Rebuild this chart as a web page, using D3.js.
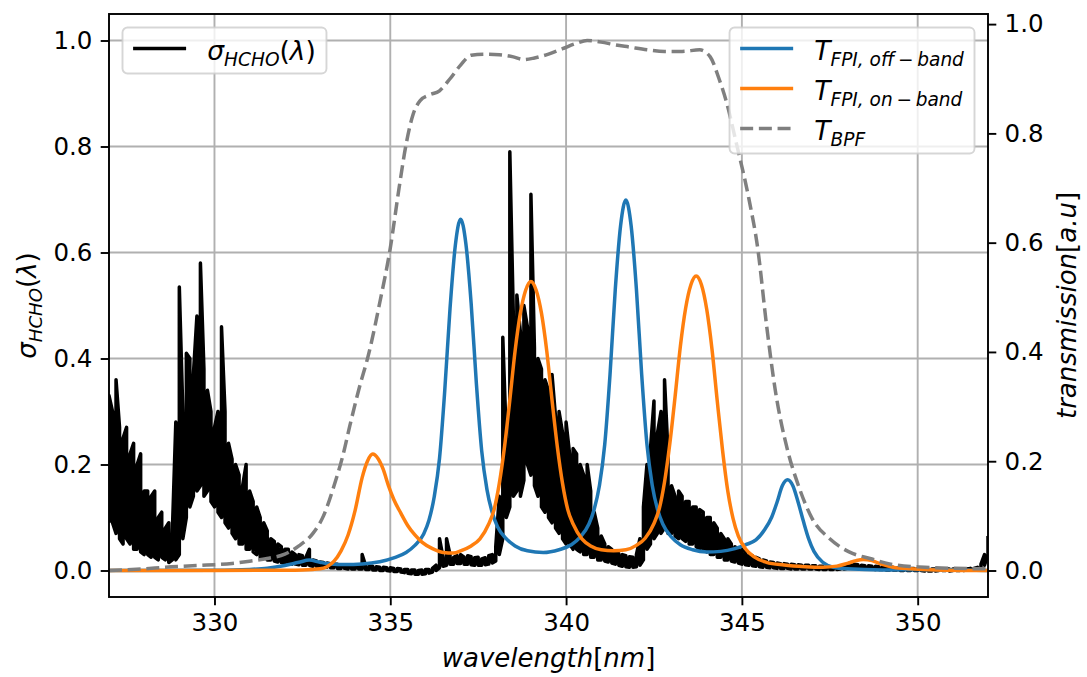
<!doctype html>
<html>
<head>
<meta charset="UTF-8">
<title>HCHO cross section and FPI transmission</title>
<script src="https://cdn.jsdelivr.net/npm/d3@7"></script>
<style>
    body { margin:0; background:#fff; }
    text { font-family: "DejaVu Sans", sans-serif; fill:#000; }
</style>
</head>
<body>
<script>
// HCHO cross section (left axis): the spectrum is far denser than the page,
// so each 0.1 nm bin keeps its highest and lowest value, starting at 327.0 nm
var sigmaStart = 327.0, sigmaStep = 0.1;
var sigmaHigh = [
 0.33,0.30,0.36,0.27,0.25,0.27,0.22,0.24,0.20,0.22,
 0.15,0.15,0.14,0.15,0.10,0.11,0.08,0.09,0.07,0.28,
 0.535,0.30,0.41,0.40,0.37,0.48,0.58,0.38,0.34,0.30,
 0.27,0.30,0.46,0.30,0.24,0.21,0.20,0.18,0.16,0.20,
 0.15,0.13,0.12,0.10,0.09,0.075,0.06,0.055,0.05,0.045,
 0.04,0.04,0.035,0.03,0.03,0.028,0.025,0.04,0.02,0.018,
 0.016,0.015,0.014,0.013,0.012,0.012,0.011,0.011,0.01,0.01,
 0.01,0.01,0.03,0.009,0.008,0.008,0.007,0.006,0.006,0.005,
 0.005,0.004,0.004,0.003,0.002,0.002,0.001,0.001,0.0,0.001,
 0.002,0.002,0.004,0.01,0.06,0.025,0.06,0.03,0.025,0.028,
 0.03,0.025,0.028,0.026,0.024,0.025,0.022,0.024,0.028,0.03,
 0.045,0.14,0.44,0.25,0.79,0.48,0.52,0.45,0.50,0.46,
 0.71,0.42,0.40,0.38,0.36,0.34,0.37,0.29,0.30,0.26,
 0.28,0.22,0.23,0.22,0.20,0.18,0.20,0.15,0.11,0.08,
 0.065,0.05,0.045,0.04,0.035,0.032,0.03,0.028,0.026,0.025,
 0.03,0.06,0.12,0.20,0.23,0.32,0.26,0.30,0.36,0.22,
 0.16,0.14,0.15,0.14,0.13,0.13,0.12,0.12,0.115,0.11,
 0.10,0.10,0.09,0.08,0.07,0.06,0.06,0.05,0.045,0.04,
 0.04,0.035,0.03,0.028,0.025,0.022,0.02,0.018,0.016,0.015,
 0.014,0.013,0.013,0.012,0.012,0.011,0.011,0.01,0.01,0.01,
 0.009,0.009,0.008,0.008,0.008,0.007,0.007,0.007,0.008,0.009,
 0.012,0.015,0.012,0.011,0.01,0.009,0.009,0.008,0.008,0.007,
 0.007,0.006,0.006,0.006,0.005,0.005,0.005,0.004,0.004,0.004,
 0.004,0.004,0.003,0.003,0.003,0.003,0.003,0.003,0.003,0.003,
 0.003,0.003,0.003,0.003,0.003,0.004,0.004,0.006,0.012,0.03,
 0.065
];
var sigmaLow = [
 0.09,0.09,0.07,0.06,0.05,0.06,0.05,0.04,0.04,0.035,
 0.03,0.03,0.025,0.025,0.02,0.025,0.02,0.015,0.02,0.02,
 0.03,0.06,0.10,0.12,0.14,0.15,0.16,0.14,0.15,0.13,
 0.12,0.11,0.10,0.09,0.08,0.07,0.06,0.05,0.05,0.04,
 0.04,0.035,0.03,0.025,0.025,0.02,0.02,0.018,0.016,0.015,
 0.014,0.013,0.012,0.012,0.011,0.01,0.01,0.01,0.008,0.008,
 0.007,0.006,0.006,0.005,0.005,0.004,0.004,0.004,0.003,0.003,
 0.003,0.003,0.003,0.002,0.002,0.001,0.001,0.0,0.0,0.0,
 -0.001,-0.002,-0.002,-0.003,-0.004,-0.005,-0.006,-0.007,-0.007,-0.007,
 -0.006,-0.005,-0.003,0.0,0.005,0.008,0.01,0.012,0.012,0.013,
 0.013,0.012,0.012,0.011,0.01,0.01,0.01,0.011,0.012,0.014,
 0.018,0.03,0.06,0.10,0.12,0.14,0.15,0.14,0.17,0.20,
 0.18,0.16,0.14,0.12,0.11,0.10,0.09,0.08,0.07,0.06,
 0.05,0.05,0.04,0.04,0.035,0.03,0.03,0.025,0.025,0.02,
 0.02,0.018,0.016,0.014,0.012,0.01,0.008,0.007,0.006,0.006,
 0.007,0.01,0.02,0.04,0.05,0.06,0.07,0.07,0.08,0.07,
 0.07,0.065,0.06,0.06,0.055,0.05,0.05,0.045,0.04,0.04,
 0.035,0.03,0.03,0.025,0.025,0.02,0.02,0.018,0.016,0.014,
 0.012,0.011,0.01,0.009,0.008,0.007,0.006,0.006,0.005,0.005,
 0.004,0.004,0.004,0.004,0.003,0.003,0.003,0.003,0.003,0.003,
 0.003,0.003,0.002,0.002,0.002,0.002,0.002,0.002,0.003,0.003,
 0.004,0.005,0.005,0.004,0.004,0.003,0.003,0.003,0.002,0.002,
 0.002,0.001,0.001,0.001,0.001,0.0,0.0,0.0,0.0,0.0,
 0.0,0.0,-0.001,-0.001,-0.001,-0.001,0.0,0.0,0.0,-0.001,
 0.0,0.0,0.0,0.0,0.001,0.001,0.001,0.002,0.004,0.01,
 0.03
];

// FPI off-band transmission (right axis)
var offWl = [327.0,330.0,331.0,331.5,332.0,332.4,332.7,333.0,333.3,333.7,334.2,334.7,335.1,335.45,335.7,335.95,336.1,336.25,336.4,336.55,336.7,336.85,
    337.0,337.15,337.3,337.45,337.6,337.75,337.9,338.05,338.3,338.55,338.9,339.35,339.8,340.15,340.4,340.65,340.8,340.95,341.1,341.25,341.4,341.55,
    341.7,341.85,342.0,342.15,342.3,342.45,342.6,342.75,343.0,343.25,343.6,344.0,344.4,344.8,345.1,345.4,345.65,345.85,346.0,346.15,
    346.3,346.45,346.6,346.75,346.9,347.05,347.3,347.6,348.0,349.0,350.9,352.0];
var offT = [0.0,0.0005,0.002,0.004,0.009,0.015,0.019,0.015,0.012,0.011,0.012,0.016,0.023,0.033,0.046,0.067,0.092,0.135,0.205,0.33,0.48,0.595,
    0.643,0.598,0.489,0.341,0.219,0.148,0.106,0.08,0.058,0.045,0.036,0.033,0.038,0.047,0.061,0.085,0.112,0.156,0.231,0.359,0.515,0.631,
    0.678,0.631,0.515,0.359,0.231,0.156,0.112,0.085,0.061,0.047,0.038,0.034,0.035,0.04,0.047,0.056,0.075,0.098,0.125,0.155,
    0.166,0.155,0.125,0.09,0.058,0.035,0.015,0.006,0.003,0.001,0.0015,0.0];

// FPI on-band transmission (right axis)
var onWl = [327.0,330.0,332.0,332.5,333.0,333.2,333.4,333.6,333.8,334.0,334.2,334.35,334.5,334.65,334.8,334.95,335.1,335.3,335.5,335.7,335.9,336.2,336.5,
    336.8,337.0,337.3,337.55,337.8,337.95,338.1,338.25,338.4,338.55,338.7,338.85,339.0,339.15,339.3,339.45,339.6,339.75,339.9,340.05,340.2,340.45,340.7,341.0,
    341.35,341.7,342.0,342.25,342.5,342.65,342.8,342.95,343.1,343.25,343.4,343.55,343.7,343.85,344.0,344.15,344.3,344.45,344.6,344.75,344.9,345.1,345.35,
    345.7,346.2,346.8,347.3,347.7,348.0,348.25,348.45,348.7,348.95,349.3,349.8,350.5,352.0];
var onT = [0.0,0.0,0.0005,0.001,0.003,0.007,0.017,0.036,0.065,0.11,0.17,0.2,0.213,0.205,0.185,0.155,0.13,0.105,0.082,0.065,0.052,0.04,0.033,
    0.032,0.036,0.045,0.058,0.085,0.111,0.159,0.227,0.312,0.402,0.471,0.513,0.529,0.513,0.471,0.402,0.312,0.227,0.159,0.111,0.085,0.058,0.045,0.038,
    0.036,0.038,0.046,0.059,0.086,0.113,0.162,0.232,0.318,0.41,0.48,0.523,0.539,0.523,0.478,0.405,0.31,0.22,0.145,0.095,0.063,0.04,0.025,
    0.015,0.01,0.007,0.006,0.008,0.013,0.018,0.02,0.018,0.012,0.006,0.003,0.001,0.0];

// band pass filter transmission (right axis)
var bpfWl = [327.0,328.0,328.6,329.5,330.5,331.0,331.5,332.0,332.4,332.8,333.1,333.4,333.65,333.85,334.1,334.4,334.7,335.0,335.25,335.45,335.65,335.85,
    336.1,336.4,336.7,337.0,337.3,337.7,338.1,338.5,338.8,339.1,339.5,339.9,340.3,340.6,341.0,341.4,341.8,342.3,342.8,343.3,343.8,344.1,344.35,344.55,
    344.85,345.2,345.45,345.7,345.95,346.3,346.6,347.0,347.5,348.05,348.7,349.2,350.2,351.0,352.0];
var bpfT = [0.0,0.003,0.006,0.009,0.013,0.017,0.022,0.03,0.045,0.068,0.1,0.155,0.21,0.265,0.33,0.4,0.49,0.59,0.7,0.78,0.835,0.86,
    0.87,0.878,0.9,0.925,0.943,0.945,0.944,0.94,0.935,0.938,0.945,0.955,0.965,0.97,0.967,0.962,0.958,0.953,0.95,0.95,0.953,0.94,0.9,0.86,
    0.78,0.68,0.59,0.45,0.33,0.22,0.157,0.095,0.058,0.034,0.021,0.012,0.006,0.004,0.003];

var xTicks = [330, 335, 340, 345, 350];
var leftTicks = [0.0, 0.2, 0.4, 0.6, 0.8, 1.0];
var rightTicks = [0.0, 0.2, 0.4, 0.6, 0.8, 1.0];

var W = 1087, H = 677;
var margin = { left: 109, right: 99, top: 14, bottom: 80 };
var width = W - margin.left - margin.right,
    height = H - margin.top - margin.bottom;

var tickFont = 24.5, labelFont = 26, legendFont = 26.5;

var svg = d3.select("body").append("svg")
    .attr("width", W).attr("height", H);

var g = svg.append("g")
    .attr("transform", "translate(" + margin.left + "," + margin.top + ")");

var x = d3.scaleLinear().domain([327, 352]).range([0, width]);
var yL = d3.scaleLinear().domain([-0.05, 1.05]).range([height, 0]);
var yR = d3.scaleLinear().domain([-0.0485, 1.0185]).range([height, 0]);

svg.append("clipPath").attr("id", "plot")
    .append("rect").attr("x", 0).attr("y", 0).attr("width", width).attr("height", height);

// grid (left axis only)
var grid = g.append("g");
xTicks.forEach(function (t) {
    grid.append("line").attr("x1", x(t)).attr("x2", x(t)).attr("y1", 0).attr("y2", height)
        .style("stroke", "#b0b0b0").style("stroke-width", 1.9);
});
leftTicks.forEach(function (t) {
    grid.append("line").attr("x1", 0).attr("x2", width).attr("y1", yL(t)).attr("y2", yL(t))
        .style("stroke", "#b0b0b0").style("stroke-width", 1.9);
});

var plot = g.append("g").attr("clip-path", "url(#plot)");

// walk the bins: up the first, down the next, and so on
var sigmaPts = [];
sigmaHigh.forEach(function (hi, i) {
    var w = sigmaStart + i * sigmaStep, lo = sigmaLow[i];
    if (i % 2 === 0) { sigmaPts.push([w, lo]); sigmaPts.push([w, hi]); }
    else { sigmaPts.push([w, hi]); sigmaPts.push([w, lo]); }
});

var sigmaLine = d3.line()
    .x(function (d) { return x(d[0]); })
    .y(function (d) { return yL(d[1]); });

plot.append("path")
    .datum(sigmaPts)
    .attr("d", sigmaLine)
    .style("fill", "none").style("stroke", "#000").style("stroke-width", 3.5)
    .style("stroke-linejoin", "round");

// little helper for the mathtext-ish labels
function mathText(sel, parts, fs) {
    var shifted = false;
    parts.forEach(function (p) {
        var t = sel.append("tspan").text(p[0]);
        var isSub = p[1] === "s";
        t.style("font-style", p[1] === "n" ? "normal" : "italic");
        if (isSub) {
            t.style("font-size", (fs * 0.7) + "px");
            if (!shifted) { t.attr("dy", fs * 0.22); shifted = true; }
        } else {
            t.style("font-size", fs + "px");
            if (shifted) { t.attr("dy", -fs * 0.22); shifted = false; }
        }
    });
}

var sigmaParts = [["\u03c3", "i"], ["HCHO", "s"], ["(", "n"], ["\u03bb", "i"], [")", "n"]];

function legend(items, anchor) {
    var lg = g.append("g");
    var rowGap = 40, pad = 0.4 * legendFont, handle = 2 * legendFont, tpad = 0.8 * legendFont;
    var box = lg.append("rect");
    var texts = [];
    items.forEach(function (it, i) {
        var yRow = 21 + i * rowGap;
        var ln = lg.append("line")
            .attr("x1", pad).attr("x2", pad + handle)
            .attr("y1", yRow).attr("y2", yRow)
            .style("stroke", it.color).style("stroke-width", 3.5);
        if (it.dash) ln.style("stroke-dasharray", it.dash);
        var t = lg.append("text").attr("x", pad + handle + tpad).attr("y", yRow + 11.5)
            .style("font-size", legendFont + "px");
        mathText(t, it.parts, legendFont);
        texts.push(t);
    });
    var tw = d3.max(texts, function (t) { return t.node().getComputedTextLength(); });
    var bw = pad + handle + tpad + tw + pad;
    var bh = 46 + (items.length - 1) * rowGap;
    box.attr("width", bw).attr("height", bh).attr("rx", 5).attr("ry", 5)
        .style("fill", "#fff").style("fill-opacity", 0.8)
        .style("stroke", "#cccccc").style("stroke-opacity", 0.8).style("stroke-width", 1.9);
    var off = 13.5;
    var lx = anchor === "left" ? off : width - off - bw;
    lg.attr("transform", "translate(" + lx + "," + off + ")");
    return lg;
}

legend([{ color: "#000", parts: sigmaParts }], "left");

// right axis curves
var lineR = d3.line()
    .x(function (d) { return x(d[0]); })
    .y(function (d) { return yR(d[1]); })
    .curve(d3.curveMonotoneX);

var offData = offWl.map(function (w, i) { return [w, offT[i]]; });
var onData = onWl.map(function (w, i) { return [w, onT[i]]; });
var bpfData = bpfWl.map(function (w, i) { return [w, bpfT[i]]; });

plot.append("path").datum(offData).attr("d", lineR)
    .style("fill", "none").style("stroke", "#1f77b4").style("stroke-width", 3.5);
plot.append("path").datum(onData).attr("d", lineR)
    .style("fill", "none").style("stroke", "#ff7f0e").style("stroke-width", 3.5);
plot.append("path").datum(bpfData).attr("d", lineR)
    .style("fill", "none").style("stroke", "#7f7f7f").style("stroke-width", 3.5)
    .style("stroke-dasharray", "13,5.7");

legend([
    { color: "#1f77b4", parts: [["T", "i"], ["FPI, off\u2009\u2212\u2009band", "s"]] },
    { color: "#ff7f0e", parts: [["T", "i"], ["FPI, on\u2009\u2212\u2009band", "s"]] },
    { color: "#7f7f7f", dash: "13,5.7", parts: [["T", "i"], ["BPF", "s"]] }
], "right");

// axes
var tickLen = 8.3, tickPad = 8.3;
var xAxis = g.append("g").attr("transform", "translate(0," + height + ")")
    .call(d3.axisBottom(x).tickValues(xTicks).tickSize(tickLen).tickPadding(tickPad).tickFormat(d3.format("d")));
var leftAxis = g.append("g")
    .call(d3.axisLeft(yL).tickValues(leftTicks).tickSize(tickLen).tickPadding(tickPad).tickFormat(d3.format(".1f")));
var rightAxis = g.append("g").attr("transform", "translate(" + width + ",0)")
    .call(d3.axisRight(yR).tickValues(rightTicks).tickSize(tickLen).tickPadding(tickPad).tickFormat(d3.format(".1f")));

[xAxis, leftAxis, rightAxis].forEach(function (a) {
    a.select(".domain").remove();
    a.selectAll(".tick line").style("stroke", "#000").style("stroke-width", 1.9);
    a.selectAll(".tick text").style("font-size", tickFont + "px")
        .style("font-family", "'DejaVu Sans', sans-serif").attr("fill", "#000");
});

g.append("rect").attr("width", width).attr("height", height)
    .style("fill", "none").style("stroke", "#000").style("stroke-width", 1.9);

// axis labels
var xl = svg.append("text").attr("x", margin.left + width / 2).attr("y", 667)
    .attr("text-anchor", "middle").style("font-size", labelFont + "px");
mathText(xl, [["wavelength", "i"], ["[", "n"], ["nm", "i"], ["]", "n"]], labelFont);

var yl = svg.append("text")
    .attr("transform", "translate(36," + (margin.top + height / 2) + ") rotate(-90)")
    .attr("text-anchor", "middle").style("font-size", labelFont + "px");
mathText(yl, sigmaParts, labelFont);

var yr = svg.append("text")
    .attr("transform", "translate(1076," + (margin.top + height / 2) + ") rotate(-90)")
    .attr("text-anchor", "middle").style("font-size", labelFont + "px");
mathText(yr, [["transmission", "i"], ["[", "n"], ["a.u", "i"], ["]", "n"]], labelFont);
</script>
</body>
</html>
